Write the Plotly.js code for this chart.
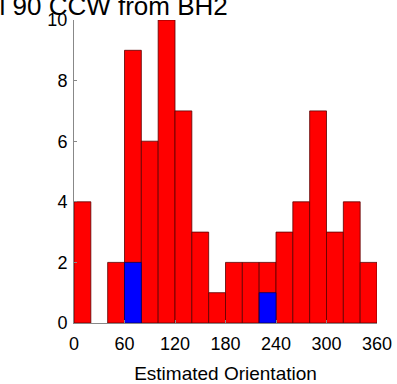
<!DOCTYPE html>
<html>
<head>
<meta charset="utf-8">
<script src="https://cdn.plot.ly/plotly-3.0.1.min.js"></script>
<style>html,body{margin:0;padding:0;background:#fff;}#chart{width:397px;height:384px;}</style>
</head>
<body>
<div id="chart"></div>
<script>
// Bin centres (degrees), bin width 20
const binCenters = [10,30,50,70,90,110,130,150,170,190,210,230,250,270,290,310,330,350];
const redCounts  = [4,0,2,9,6,10,7,3,1,2,2,2,3,4,7,3,4,2];
const blueCounts = [0,0,0,2,0,0,0,0,0,0,0,1,0,0,0,0,0,0];
const xTicks = [0,60,120,180,240,300,360];
const yTicks = [0,2,4,6,8,10];
const titleText = "Actual 90 CCW from BH2";
const xTitle = "Estimated Orientation";

const font = "Liberation Sans, Arial, Helvetica, sans-serif";

// empty bins draw nothing
function nonEmpty(xs, ys) {
  const ox = [], oy = [];
  ys.forEach((v, i) => { if (v > 0) { ox.push(xs[i]); oy.push(v); } });
  return {x: ox, y: oy};
}
const red = nonEmpty(binCenters, redCounts);
const blue = nonEmpty(binCenters, blueCounts);

const traces = [
  {type:'bar', x:red.x, y:red.y, width:20,
   marker:{color:'#ff0000', line:{color:'#5a0000', width:0.8}}, hoverinfo:'skip'},
  {type:'bar', x:blue.x, y:blue.y, width:20,
   marker:{color:'#0000ff', line:{color:'#00005a', width:0.8}}, hoverinfo:'skip'}
];

const layout = {
  width:397, height:384,
  margin:{l:74, r:20, t:20, b:61, pad:0},
  paper_bgcolor:'#fff', plot_bgcolor:'#fff',
  barmode:'overlay', bargap:0, showlegend:false,
  font:{family:font, size:18, color:'#000'},
  xaxis:{range:[0,360], tickvals:xTicks, ticktext:xTicks.map(String),
    ticks:'inside', ticklen:3, tickcolor:'#888', showline:true, linecolor:'#888', linewidth:1,
    showgrid:false, zeroline:false, fixedrange:true, ticklabelstandoff:4,
    tickfont:{size:18, family:font, color:'#000'},
    title:{text:xTitle, font:{size:19, family:font, color:'#000'}, standoff:14}},
  yaxis:{range:[0,10], tickvals:yTicks, ticktext:yTicks.map(String),
    ticks:'inside', ticklen:3, tickcolor:'#888', showline:true, linecolor:'#888', linewidth:1,
    showgrid:false, zeroline:false, fixedrange:true, ticklabelstandoff:2,
    tickfont:{size:18, family:font, color:'#000'}},
  annotations:[{text:titleText, xref:'paper', yref:'paper', x:(230-74)/303, y:1+(20-6)/303,
    xanchor:'right', yanchor:'middle', showarrow:false, font:{size:26, family:font, color:'#000'}}]
};

Plotly.newPlot('chart', traces, layout, {displayModeBar:false, staticPlot:true});
</script>
</body>
</html>
